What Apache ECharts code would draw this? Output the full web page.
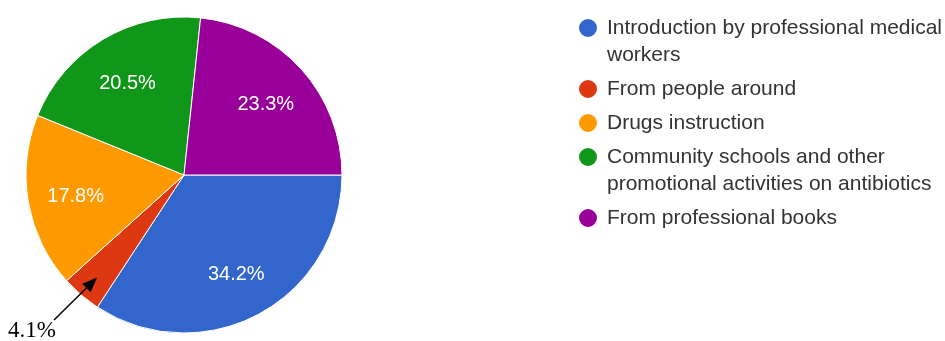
<!DOCTYPE html>
<html>
<head>
<meta charset="utf-8">
<script src="https://cdn.jsdelivr.net/npm/echarts@6/dist/echarts.min.js"></script>
<style>
html,body{margin:0;padding:0;background:#fff;}
#chart{width:945px;height:341px;}
</style>
</head>
<body>
<div id="chart"></div>
<script>
var categories = [
  'Introduction by professional medical workers',
  'From people around',
  'Drugs instruction',
  'Community schools and other promotional activities on antibiotics',
  'From professional books'
];
var legendLines = [
  ['Introduction by professional medical', 'workers'],
  ['From people around'],
  ['Drugs instruction'],
  ['Community schools and other', 'promotional activities on antibiotics'],
  ['From professional books']
];
var values = [34.2, 4.1, 17.8, 20.5, 23.3];
var colors = ['#3366CC', '#DC3912', '#FF9900', '#109618', '#990099'];
var annotatedIndex = 1;

var CX = 184, CY = 175, R = 158;
var FONT = '"Liberation Sans", Arial, sans-serif';
var LEG_FS = 21, LEG_LH = 27, LEG_GAP = 7, LEG_FIRST = 28, ICON = 20;

var total = values.reduce(function (a, b) { return a + b; }, 0);

var mainData = categories.map(function (c, i) {
  return { name: c, value: values[i], itemStyle: { color: colors[i] } };
});
var labelData = categories.map(function (c, i) {
  return { name: c, value: values[i], label: { show: i !== annotatedIndex } };
});

// annotation arrow direction from the slice's mid angle
var cum = 0;
for (var k = 0; k < annotatedIndex; k++) cum += values[k];
var midDeg = (cum + values[annotatedIndex] / 2) / total * 360;
var a = midDeg * Math.PI / 180;
var dirX = Math.cos(a), dirY = Math.sin(a);
var tipR = 135, tailR = 195;
var tip = [CX + tipR * dirX + 1, CY + tipR * dirY];
var tail = [CX + tailR * dirX - 3, CY + tailR * dirY - 3];
var ux = tip[0] - tail[0], uy = tip[1] - tail[1];
var ul = Math.sqrt(ux * ux + uy * uy); ux /= ul; uy /= ul;
var headLen = 15, headHalf = 6;
var base = [tip[0] - ux * headLen, tip[1] - uy * headLen];
var p1 = [base[0] - uy * headHalf, base[1] + ux * headHalf];
var p2 = [base[0] + uy * headHalf, base[1] - ux * headHalf];

// one legend block per item so the icon sits on the first text line
var legends = [];
var iconY = LEG_FIRST;
categories.forEach(function (c, i) {
  var n = legendLines[i].length;
  var extra = (n - 1) * LEG_LH;
  var outerHalf = (n * LEG_LH + extra) / 2;
  legends.push({
    orient: 'vertical',
    left: 577,
    top: iconY - outerHalf,
    padding: 0,
    itemWidth: ICON,
    itemHeight: ICON,
    icon: 'circle',
    selectedMode: false,
    data: [c],
    formatter: function () {
      return legendLines[i].map(function (s) { return '{t|' + s + '}'; }).join('\n');
    },
    textStyle: {
      fontFamily: FONT, fontSize: LEG_FS, color: '#333333', lineHeight: LEG_LH,
      padding: [extra, 0, 0, 4],
      rich: { t: { fontFamily: FONT, fontSize: LEG_FS, color: '#333333', lineHeight: LEG_LH } }
    }
  });
  iconY += n * LEG_LH + LEG_GAP;
});

var chart = echarts.init(document.getElementById('chart'), null, { renderer: 'canvas' });
chart.setOption({
  animation: false,
  backgroundColor: '#ffffff',
  color: colors,
  legend: legends,
  series: [
    {
      type: 'pie',
      center: [CX, CY],
      radius: [0, R],
      startAngle: 0,
      clockwise: true,
      avoidLabelOverlap: false,
      label: { show: false },
      labelLine: { show: false },
      itemStyle: { borderColor: '#ffffff', borderWidth: 1 },
      emphasis: { disabled: true },
      data: mainData
    },
    {
      type: 'pie',
      center: [CX, CY],
      radius: [56, R],
      startAngle: 0,
      clockwise: true,
      silent: true,
      legendHoverLink: false,
      avoidLabelOverlap: false,
      itemStyle: { color: 'rgba(0,0,0,0)' },
      label: {
        show: true,
        position: 'inside',
        color: '#ffffff',
        fontFamily: FONT,
        fontSize: 20,
        offset: [0, 3],
        formatter: function (p) { return p.value.toFixed(1) + '%'; }
      },
      labelLine: { show: false },
      emphasis: { disabled: true },
      data: labelData
    }
  ],
  graphic: [
    {
      type: 'line',
      shape: { x1: tail[0], y1: tail[1], x2: base[0], y2: base[1] },
      style: { stroke: '#000000', lineWidth: 1.5 },
      z: 100
    },
    {
      type: 'polygon',
      shape: { points: [tip, p1, p2] },
      style: { fill: '#000000' },
      z: 100
    },
    {
      type: 'text',
      x: 8,
      y: 331,
      style: {
        text: values[annotatedIndex].toFixed(1) + '%',
        fill: '#000000',
        font: '23px "Liberation Serif", "Times New Roman", serif',
        textAlign: 'left',
        textVerticalAlign: 'middle'
      },
      z: 100
    }
  ]
});
</script>
</body>
</html>
